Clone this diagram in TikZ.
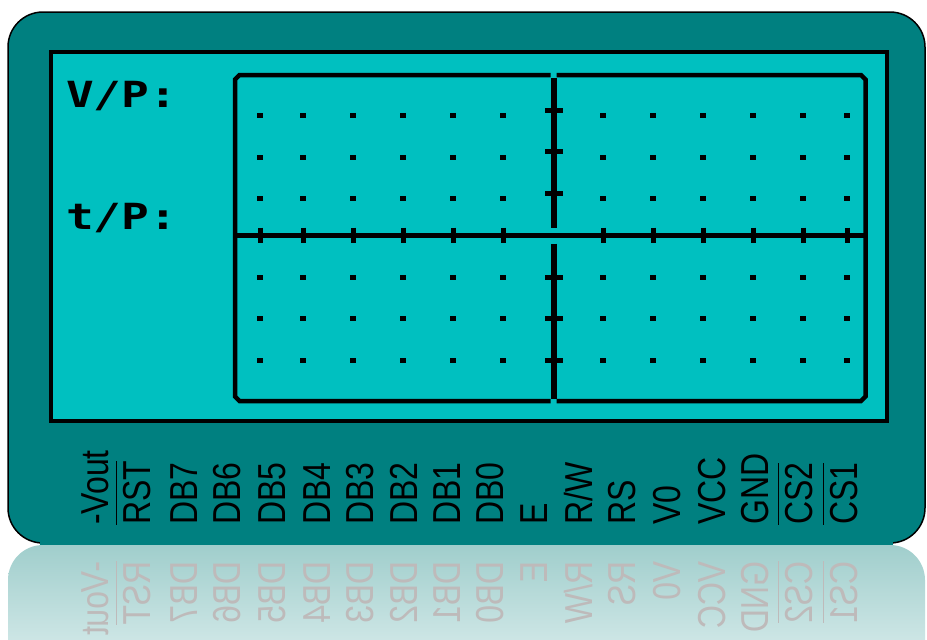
\documentclass[tikz,border=0pt]{standalone}
\usepackage{graphicx}
\usepackage{fontspec}
\newfontfamily\pinfont{Liberation Sans}
\newfontfamily\lcdfont{DejaVu Sans Mono}
\definecolor{bezel}{RGB}{0,128,128}
\definecolor{screen}{RGB}{0,192,192}
\definecolor{reflA}{RGB}{160,206,204}
\definecolor{reflB}{RGB}{228,242,242}
\definecolor{refltext}{RGB}{190,186,186}
\newcommand\ovl[1]{\setbox0\hbox{#1}\rlap{\rule[1.2\ht0]{\wd0}{1.5pt}}#1}
\newcommand\pinlabels[1]{%
  \foreach \x/\t [count=\i] in {108/{-Vout},150/{\ovl{RST}},197/DB7,240/DB6,285/DB5,330/DB4,373/DB3,417/DB2,460/DB1,503/DB0,547/E,592/{R/W},635/RS,680/V0,725/VCC,768/GND,812/{\ovl{CS2}},857/{\ovl{CS1}}}
    {\node[pinlabel] (#1\i) at (\x,525) {\scalebox{0.82}[1]{\t}};}%
}
\tikzset{
  pinlabel/.style={rotate=90, anchor=base west, inner sep=0pt,
    font=\pinfont\fontsize{39}{39}\selectfont},
  lcd/.style={anchor=base west, inner sep=0pt,
    font=\lcdfont\bfseries\fontsize{36}{36}\selectfont},
  frameline/.style={line width=4.5pt, line join=miter},
  dot/.style={fill=black},
}
\begin{document}
\begin{tikzpicture}[x=1pt,y=-1pt]
\useasboundingbox[fill=white] (0,0) rectangle (927,640);
% reflection
\shade[top color=reflA, bottom color=reflB, rounded corners=35pt]
  (8,690) -- (8,545) -- (925,545) -- (925,690) -- cycle;
\begin{scope}[yshift=-1086pt, yscale=-1, transform shape]
  \begin{scope}[text=refltext, color=refltext]
    \pinlabels{r}
  \end{scope}
\end{scope}
% bezel
\fill[bezel, rounded corners=35pt] (8,543) -- (8,12) -- (925,12) -- (925,543) -- cycle;
\draw[line width=1.5pt, rounded corners=35pt] (60,543) -- (8,543) -- (8,12) -- (925,12) -- (925,543) -- (873,543);
\fill[bezel] (40,541) rectangle (893,545);
% screen
\draw[line width=4pt, fill=screen] (51,52) rectangle (887,421);
% graph frame
\draw[frameline] (550.5,75) -- (239.5,75) -- (235,79.5) -- (235,396.5) -- (239.5,401) -- (550.5,401);
\draw[frameline] (556.5,75) -- (861,75) -- (865.5,79.5) -- (865.5,396.5) -- (861,401) -- (556.5,401);
\draw[frameline] (235,235.5) -- (865.5,235.5);
\draw[line width=6pt] (553.5,78) -- (553.5,227.5);
\draw[line width=6pt] (553.5,243.5) -- (553.5,399);
\foreach \x in {260,303,353,403,453,503,603,653,703,753,803,847}{
  \draw[line width=5pt] (\x,227.5) -- (\x,243);
  \foreach \y in {115,157,198,277,318,360}{
    \fill[dot] (\x-3,\y-2.5) rectangle (\x+3,\y+2.5);
  }
}
\foreach \y in {110,151,193,277,318,360}{
  \draw[line width=5pt] (545,\y) -- (563,\y);
}
% lcd labels
\node[lcd] (vp) at (66,107) {\scalebox{1.28}[1]{V/P:}};
\node[lcd] (tp) at (66,229) {\scalebox{1.28}[1]{t/P:}};
% pins
\pinlabels{p}
\end{tikzpicture}
\end{document}
